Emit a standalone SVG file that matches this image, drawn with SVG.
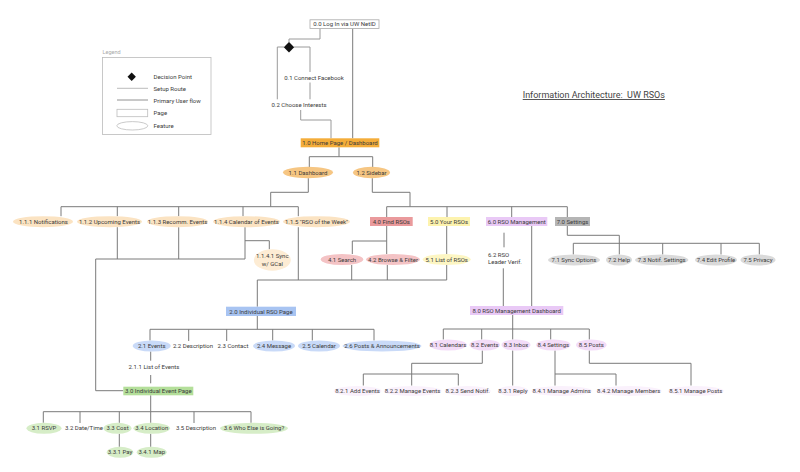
<svg xmlns="http://www.w3.org/2000/svg" width="800" height="472" viewBox="0 0 800 472">
<style>
text{font-family:Roboto,"Liberation Sans",sans-serif;font-size:6px;fill:#3a3a3a;text-anchor:middle}
.l{text-anchor:start}
.ln{fill:none;stroke:#7a7a7a;stroke-width:1}
.su{fill:none;stroke:#9a9a9a;stroke-width:1}
.title{font-size:9px;fill:#444;text-decoration:underline;text-anchor:start}
.leg{fill:#fff;stroke:#bdbdbd;stroke-width:0.8}
.orange{fill:#f4ad3a}.o1{fill:#f6c683}.o2{fill:#fbe3c2}.o3{fill:#fdecd4}
.red{fill:#ea9a9c}.red2{fill:#f4c3c5}
.yel{fill:#fdf3ae}.yel2{fill:#fdf6c3}
.pur{fill:#e9c9f6}.pur2{fill:#f3dcf8}.pur3{fill:#faf1fc}
.gry{fill:#b5b5b5}.gry2{fill:#dadada}
.blu{fill:#a8c4f2}.blu2{fill:#c9daf8}
.grn{fill:#b4df9a}.grn2{fill:#d6edc7}
</style>

<g id="title"><text class="title" x="522.7" y="98">Information Architecture:&#160; UW RSOs</text></g>

<g id="legend">
<text class="l" x="102.5" y="54" style="font-size:5.5px;fill:#aaa">Legend</text>
<rect x="102.5" y="57.5" width="108.5" height="77" fill="none" stroke="#bbb" stroke-width="0.8"/>
<polygon points="131.7,72.5 135.9,76.7 131.7,80.9 127.5,76.7" fill="#111"/>
<text class="l" x="153.5" y="78.7">Decision Point</text>
<line x1="117" y1="88.3" x2="148" y2="88.3" stroke="#aaa" stroke-width="0.8"/>
<text class="l" x="153.5" y="90.5">Setup Route</text>
<line x1="117" y1="100" x2="148" y2="100" stroke="#777" stroke-width="0.8"/>
<text class="l" x="153.5" y="102.5">Primary User flow</text>
<rect class="leg" x="117" y="109.3" width="30.7" height="7.4"/>
<text class="l" x="153.5" y="115">Page</text>
<ellipse class="leg" cx="132.3" cy="125.8" rx="15.5" ry="4.2"/>
<text class="l" x="153.5" y="127.5">Feature</text>
</g>

<g id="connectors">
<path class="su" d="M320,28.5 V39 H289 V42.5 M294,47 H310 V72 M310,82.5 V99.3 M284,47 H277.3 V99.3 M300.7,110 V120 H331 V138.3"/>
<path class="ln" d="M352.7,28.5 V138.3"/>
<path class="ln" d="M339,147.3 V156.7 M309.3,156.7 H372.7 M309.3,156.7 V167 M372.7,156.7 V167"/>
<path class="ln" d="M308.3,178.2 V192.3 H270.7 V206.7 M61,206.7 H298.3 M61,206.7 V216.2 M117.3,206.7 V216.2 M178.7,206.7 V216.2 M243,206.7 V216.2 M298.3,206.7 V216.2"/>
<path class="ln" d="M372.3,178.2 V192.3 H410 V206.7 M386.7,206.7 H567.3 M386.7,206.7 V217 M447,206.7 V217 M511.7,206.7 V217 M567.3,206.7 V217"/>
<path class="ln" d="M117.3,227.2 V259 M178.7,227.2 V259 M245,227.2 V259 M245,240.7 H269.3 V249.3 M95.7,259 H245 M95.7,259 V390.7 H123.3"/>
<path class="ln" d="M298.3,227.2 V280 M386.7,226 V241 H352.3 V254 M386.7,241 V254 M446.7,226 V254 M351.7,265 V280 M387.3,265 V280 M446.7,265 V280 M257.3,280 H446.7 M257.3,280 V306.7"/>
<path class="ln" d="M257.3,316 V329.3 M150,329.3 H374 M150,329.3 V340.5 M188.7,329.3 V341 M226.7,329.3 V341 M272.7,329.3 V340.5 M312.3,329.3 V340.5 M374,329.3 V340.5"/>
<path class="ln" d="M150.7,351.5 V360.7 M150.7,375 V383.3"/>
<path class="ln" d="M150.7,395.3 V411.7 M43.3,411.7 H251 M43.3,411.7 V422.8 M80,411.7 V423 M119.3,411.7 V422.8 M150.7,411.7 V422.8 M194,411.7 V423 M251,411.7 V422.8 M119.3,433.8 V446.8 M150.7,433.8 V446.8"/>
<path class="ln" d="M504,232.7 V247.3 M531.7,226 V306 M503.3,268.3 V306"/>
<path class="ln" d="M567.3,226 V235.3 H619.3 V254.5 M573.3,243.3 H759.3 M573.3,243.3 V254.5 M662.7,243.3 V254.5 M721,243.3 V254.5 M759.3,243.3 V254.5"/>
<path class="ln" d="M512.7,315 V329 M443.3,329 H589.3 M443.3,329 V339.5 M481.7,329 V339.5 M512.7,329 V339.5 M550.7,329 V339.5 M589.3,329 V339.5"/>
<path class="ln" d="M482.3,350.5 V363.3 H411.7 V385.5 M363.3,374 H458.3 M363.3,374 V385.5 M458.3,374 V385.5 M512.7,350.5 V385.5 M555,350.5 V385.5 M555,374 H616 V385.5 M589.3,350.5 V363.3 H691 V385.5"/>
</g>

<g id="n0-0"><rect x="310" y="19.8" width="69" height="8.7" fill="#fff" stroke="#aaa" stroke-width="0.8"/><text x="344.5" y="26.3">0.0 Log In via UW NetID</text></g>
<g id="decision"><polygon points="289,42 294.2,47.2 289,52.4 283.8,47.2" fill="#111"/></g>
<g id="n0-1"><text x="314" y="79.7">0.1 Connect Facebook</text></g>
<g id="n0-2"><text x="299" y="106.7">0.2 Choose Interests</text></g>

<g id="n1-0"><rect class="orange" x="300.7" y="138.3" width="78.6" height="9"/><text x="340" y="145">1.0 Home Page / Dashboard</text></g>
<g id="n1-1"><ellipse class="o1" cx="308" cy="172.5" rx="25" ry="5.7"/><text x="308" y="174.6">1.1 Dashboard</text></g>
<g id="n1-2"><ellipse class="o1" cx="371.5" cy="172.5" rx="18.5" ry="5.7"/><text x="371.5" y="174.6">1.2 Sidebar</text></g>

<g id="n1-1-1"><ellipse class="o2" cx="43" cy="221.7" rx="30" ry="5.5"/><text x="43.5" y="223.8">1.1.1 Notifications</text></g>
<g id="n1-1-2"><ellipse class="o2" cx="109.5" cy="221.7" rx="32.5" ry="5.5"/><text x="109.5" y="223.8">1.1.2 Upcoming Events</text></g>
<g id="n1-1-3"><ellipse class="o2" cx="177.5" cy="221.7" rx="30.5" ry="5.5"/><text x="177.5" y="223.8">1.1.3 Recomm. Events</text></g>
<g id="n1-1-4"><ellipse class="o2" cx="246.5" cy="221.7" rx="33.5" ry="5.5"/><text x="246.5" y="223.8">1.1.4 Calendar of Events</text></g>
<g id="n1-1-5"><ellipse class="o2" cx="316.5" cy="221.7" rx="33.5" ry="5.5"/><text x="316.5" y="223.8">1.1.5 "RSO of the Week"</text></g>
<g id="n1-1-4-1"><ellipse class="o3" cx="272.3" cy="260" rx="18.5" ry="10.7"/><text x="272.3" y="258">1.1.4.1 Sync</text><text x="272.3" y="265.5">w/ GCal</text></g>

<g id="n4-0"><rect class="red" x="370" y="217" width="42.7" height="9"/><text x="391.3" y="223.7">4.0 Find RSOs</text></g>
<g id="n5-0"><rect class="yel" x="428" y="217" width="42" height="9"/><text x="449" y="223.7">5.0 Your RSOs</text></g>
<g id="n6-0"><rect class="pur" x="486" y="217" width="61.3" height="9"/><text x="516.7" y="223.7">6.0 RSO Management</text></g>
<g id="n7-0"><rect class="gry" x="555" y="217" width="35" height="9"/><text x="572.5" y="223.7">7.0 Settings</text></g>

<g id="n4-1"><ellipse class="red2" cx="342" cy="259.5" rx="21.3" ry="5.5"/><text x="342" y="261.6">4.1 Search</text></g>
<g id="n4-2"><ellipse class="red2" cx="393" cy="259.5" rx="27" ry="5.5"/><text x="393" y="261.6">4.2 Browse &amp; Filter</text></g>
<g id="n5-1"><ellipse class="yel2" cx="446.7" cy="259.5" rx="24" ry="5.5"/><text x="446.7" y="261.6">5.1 List of RSOs</text></g>
<g id="n6-2"><text class="l" x="488" y="257">6.2 RSO</text><text class="l" x="488" y="264.3">Leader Verif.</text></g>

<g id="n7-1"><ellipse class="gry2" cx="574" cy="260" rx="26" ry="5.5"/><text x="574" y="262.1">7.1 Sync Options</text></g>
<g id="n7-2"><ellipse class="gry2" cx="619" cy="260" rx="13" ry="5.5"/><text x="619" y="262.1">7.2 Help</text></g>
<g id="n7-3"><ellipse class="gry2" cx="661.7" cy="260" rx="26.7" ry="5.5"/><text x="661.7" y="262.1">7.3 Notif. Settings</text></g>
<g id="n7-4"><ellipse class="gry2" cx="716" cy="260" rx="21" ry="5.5"/><text x="716" y="262.1">7.4 Edit Profile</text></g>
<g id="n7-5"><ellipse class="gry2" cx="758" cy="260" rx="17.5" ry="5.5"/><text x="758" y="262.1">7.5 Privacy</text></g>

<g id="n2-0"><rect class="blu" x="226" y="306.7" width="70" height="9.3"/><text x="261" y="313.5">2.0 Individual RSO Page</text></g>
<g id="n2-1"><ellipse class="blu2" cx="151.7" cy="346" rx="19" ry="5.5"/><text x="151.7" y="348.1">2.1 Events</text></g>
<g id="n2-2"><text x="193" y="348.1">2.2 Description</text></g>
<g id="n2-3"><text x="233" y="348.1">2.3 Contact</text></g>
<g id="n2-4"><ellipse class="blu2" cx="274" cy="346" rx="21" ry="5.5"/><text x="274" y="348.1">2.4 Message</text></g>
<g id="n2-5"><ellipse class="blu2" cx="319" cy="346" rx="21" ry="5.5"/><text x="319" y="348.1">2.5 Calendar</text></g>
<g id="n2-6"><ellipse class="blu2" cx="382" cy="346" rx="39.5" ry="5.5"/><text x="382" y="348.1">2.6 Posts &amp; Announcements</text></g>
<g id="n2-1-1"><text x="154" y="368.8">2.1.1 List of Events</text></g>

<g id="n3-0"><rect class="grn" x="123.3" y="386.7" width="70" height="8.6"/><text x="158.3" y="393.1">3.0 Individual Event Page</text></g>
<g id="n3-1"><ellipse class="grn2" cx="44" cy="428.3" rx="17.5" ry="5.5"/><text x="44" y="430.4">3.1 RSVP</text></g>
<g id="n3-2"><text x="84" y="430.4">3.2 Date/Time</text></g>
<g id="n3-3"><ellipse class="grn2" cx="117.5" cy="428.3" rx="14" ry="5.5"/><text x="117.5" y="430.4">3.3 Cost</text></g>
<g id="n3-4"><ellipse class="grn2" cx="151.7" cy="428.3" rx="18.3" ry="5.5"/><text x="151.7" y="430.4">3.4 Location</text></g>
<g id="n3-5"><text x="196" y="430.4">3.5 Description</text></g>
<g id="n3-6"><ellipse class="grn2" cx="254" cy="428.3" rx="34" ry="5.5"/><text x="254" y="430.4">3.6 Who Else is Going?</text></g>
<g id="n3-3-1"><ellipse class="grn2" cx="120" cy="452.3" rx="13.3" ry="5.5"/><text x="120" y="454.4">3.3.1 Pay</text></g>
<g id="n3-4-1"><ellipse class="grn2" cx="151.7" cy="452.3" rx="15" ry="5.5"/><text x="151.7" y="454.4">3.4.1 Map</text></g>

<g id="n8-0"><rect class="pur" x="470" y="306" width="93.3" height="9"/><text x="516.7" y="312.6">8.0 RSO Management Dashboard</text></g>
<g id="n8-1"><ellipse class="pur2" cx="448" cy="345" rx="18.7" ry="5.5"/><text x="448" y="347.1">8.1 Calendars</text></g>
<g id="n8-2"><ellipse class="pur2" cx="484.7" cy="345" rx="15.3" ry="5.5"/><text x="484.7" y="347.1">8.2 Events</text></g>
<g id="n8-3"><ellipse class="pur2" cx="516" cy="345" rx="14.5" ry="5.5"/><text x="516" y="347.1">8.3 Inbox</text></g>
<g id="n8-4"><ellipse class="pur2" cx="553.3" cy="345" rx="17.3" ry="5.5"/><text x="553.3" y="347.1">8.4 Settings</text></g>
<g id="n8-5"><ellipse class="pur2" cx="591.3" cy="345" rx="15.3" ry="5.5"/><text x="591.3" y="347.1">8.5 Posts</text></g>

<g id="n8-2-1"><ellipse class="pur3" cx="357.5" cy="391" rx="24" ry="5"/><text x="357.5" y="393.1">8.2.1 Add Events</text></g>
<g id="n8-2-2"><ellipse class="pur3" cx="412.5" cy="391" rx="29" ry="5"/><text x="412.5" y="393.1">8.2.2 Manage Events</text></g>
<g id="n8-2-3"><ellipse class="pur3" cx="467.7" cy="391" rx="23" ry="5"/><text x="467.7" y="393.1">8.2.3 Send Notif.</text></g>
<g id="n8-3-1"><ellipse class="pur3" cx="513" cy="391" rx="15.5" ry="5"/><text x="513" y="393.1">8.3.1 Reply</text></g>
<g id="n8-4-1"><ellipse class="pur3" cx="561.7" cy="391" rx="30.5" ry="5"/><text x="561.7" y="393.1">8.4.1 Manage Admins</text></g>
<g id="n8-4-2"><ellipse class="pur3" cx="628.7" cy="391" rx="33" ry="5"/><text x="628.7" y="393.1">8.4.2 Manage Members</text></g>
<g id="n8-5-1"><ellipse class="pur3" cx="695.8" cy="391" rx="28" ry="5"/><text x="695.8" y="393.1">8.5.1 Manage Posts</text></g>
</svg>
